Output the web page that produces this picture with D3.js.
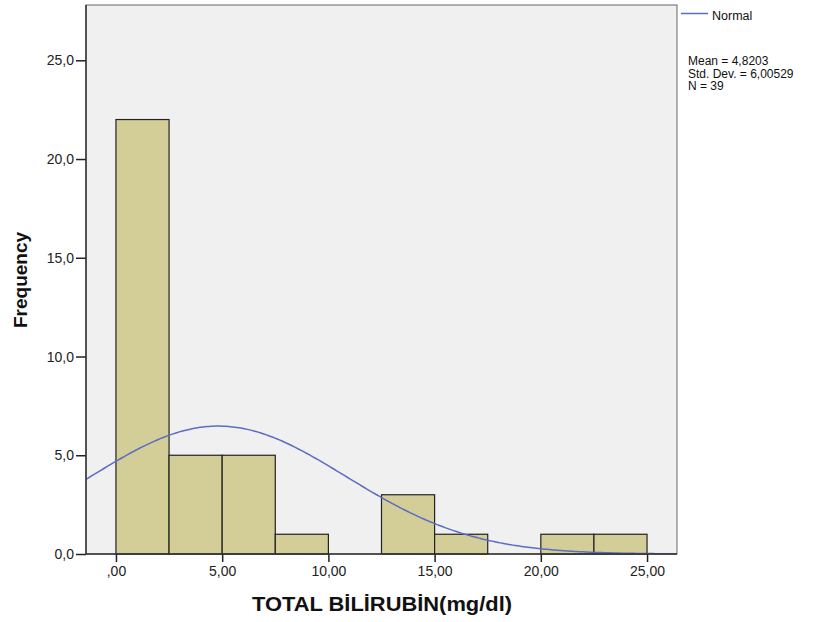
<!DOCTYPE html>
<html><head><meta charset="utf-8">
<script src="https://cdn.jsdelivr.net/npm/d3@7"></script>
<style>body{margin:0;background:#fff;} text{font-family:"Liberation Sans",Arial,sans-serif;}</style>
</head><body><svg id="c" width="830" height="622"></svg>
<script>
const binStarts = [0, 2.5, 5, 7.5, 10, 12.5, 15, 17.5, 20, 22.5];
const binWidth = 2.5;
const frequencies = [22, 5, 5, 1, 0, 3, 1, 0, 1, 1];
const xTicks = [0, 5, 10, 15, 20, 25];
const xTickLabels = [",00", "5,00", "10,00", "15,00", "20,00", "25,00"];
const yTicks = [0, 5, 10, 15, 20, 25];
const yTickLabels = ["0,0", "5,0", "10,0", "15,0", "20,0", "25,0"];
const stats = {mean: 4.8203, sd: 6.00529, n: 39};
const statLines = ["Mean = 4,8203", "Std. Dev. = 6,00529", "N = 39"];

const L = 86, R = 677, T = 5, B = 554;
const svg = d3.select("#c");
const x = d3.scaleLinear().domain([-1.41, 26.41]).range([L, R]);
const y = d3.scaleLinear().domain([0, 27.8]).range([B, T]);

svg.append("rect").attr("x", L).attr("y", T).attr("width", R - L).attr("height", B - T)
  .attr("fill", "#f0f0f0").attr("stroke", "#666").attr("stroke-width", 1);

const g = svg.append("g");
g.selectAll("rect.bar").data(binStarts.map((s, i) => ({s, f: frequencies[i]})).filter(d => d.f > 0))
  .enter().append("rect").attr("class", "bar")
  .attr("x", d => x(d.s)).attr("y", d => y(d.f))
  .attr("width", d => x(d.s + binWidth) - x(d.s)).attr("height", d => y(0) - y(d.f))
  .attr("fill", "#d3ce98").attr("stroke", "#222").attr("stroke-width", 1.2);

// normal curve
const scaleF = stats.n * binWidth / (stats.sd * Math.sqrt(2 * Math.PI));
const xs = d3.range(-1.41, 26.41 + 0.001, 0.1);
const line = d3.line().x(d => x(d)).y(d => y(scaleF * Math.exp(-0.5 * ((d - stats.mean) / stats.sd) ** 2)));
svg.append("path").datum(xs).attr("d", line).attr("fill", "none").attr("stroke", "#5a6cc4").attr("stroke-width", 1.5);

// axes
const yAxis = d3.axisLeft(y).tickValues(yTicks).tickSize(10).tickFormat((d, i) => yTickLabels[i]);
const ya = svg.append("g").attr("transform", `translate(${L},0)`).call(yAxis);
const xAxis = d3.axisBottom(x).tickValues(xTicks).tickSize(8).tickFormat((d, i) => xTickLabels[i]);
const xa = svg.append("g").attr("transform", `translate(0,${B})`).call(xAxis);
[ya, xa].forEach(a => {
  a.select(".domain").remove();
  a.selectAll("line").attr("stroke", "#222").attr("stroke-width", 1.5);
  a.selectAll("text").attr("fill", "#222").style("font-size", "14px").style("font-family", "Liberation Sans, Arial, sans-serif");
});
ya.selectAll("text").attr("x", -12);
xa.selectAll("text").attr("y", 12);
svg.append("line").attr("x1", L).attr("x2", L).attr("y1", T).attr("y2", B).attr("stroke", "#333").attr("stroke-width", 1.5);
svg.append("line").attr("x1", L).attr("x2", R).attr("y1", B).attr("y2", B).attr("stroke", "#333").attr("stroke-width", 1.5);

svg.append("text").attr("x", 252).attr("y", 610.5)
  .attr("textLength", 260).attr("lengthAdjust", "spacingAndGlyphs")
  .style("font-size", "19.5px").style("font-weight", "bold").attr("fill", "#111").text("TOTAL BİLİRUBİN(mg/dl)");
svg.append("text").attr("transform", "translate(27,280) rotate(-90)").attr("text-anchor", "middle")
  .style("font-size", "19px").style("font-weight", "bold").attr("fill", "#111").text("Frequency");

// legend
svg.append("line").attr("x1", 681).attr("x2", 708).attr("y1", 13.5).attr("y2", 13.5).attr("stroke", "#5a6cc4").attr("stroke-width", 1.5);
svg.append("text").attr("x", 712).attr("y", 20).style("font-size", "12.5px").attr("fill", "#111").text("Normal");
svg.append("g").selectAll("text").data(statLines).enter().append("text")
  .attr("x", 688).attr("y", (d, i) => 65 + i * 12.5).style("font-size", "12px").attr("fill", "#111").text(d => d);
</script></body></html>
